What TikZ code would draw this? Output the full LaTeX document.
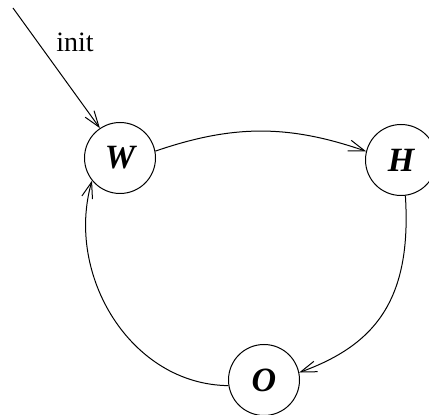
\documentclass[tikz,border=0pt]{standalone}
\usepackage{fontspec}
\setmainfont{Liberation Serif}
\usetikzlibrary{arrows.meta}
\begin{document}
\begin{tikzpicture}[x=1pt,y=1pt,
  state/.style={circle,draw,line width=1pt,minimum size=71pt,inner sep=0pt,
    font=\fontsize{34}{40}\selectfont\bfseries\itshape},
  edge/.style={line width=1pt,-{Straight Barb[length=16pt,width=11pt,line width=1pt]}}]
\useasboundingbox (0,0) rectangle (429,415);
\node[state] (W) at (120,257) {W};
\node[state] (H) at (401,255) {H};
\node[state] (O) at (264,35) {O};
\coordinate (i) at (13,407);
\draw[edge] (i) -- node[pos=0.42,above right=3pt,font=\fontsize{28}{32}\selectfont] {init} (W.124);
\draw[edge] (W.11) to[bend left=19] (H.166);
\draw[edge] (H.-83) .. controls +(6.6,-104.3) and +(75.8,27.5) .. (O.12);
\draw[edge] (O.189.5) .. controls +(-98,1) and +(-27,-94) .. (W.219);
\end{tikzpicture}
\end{document}
